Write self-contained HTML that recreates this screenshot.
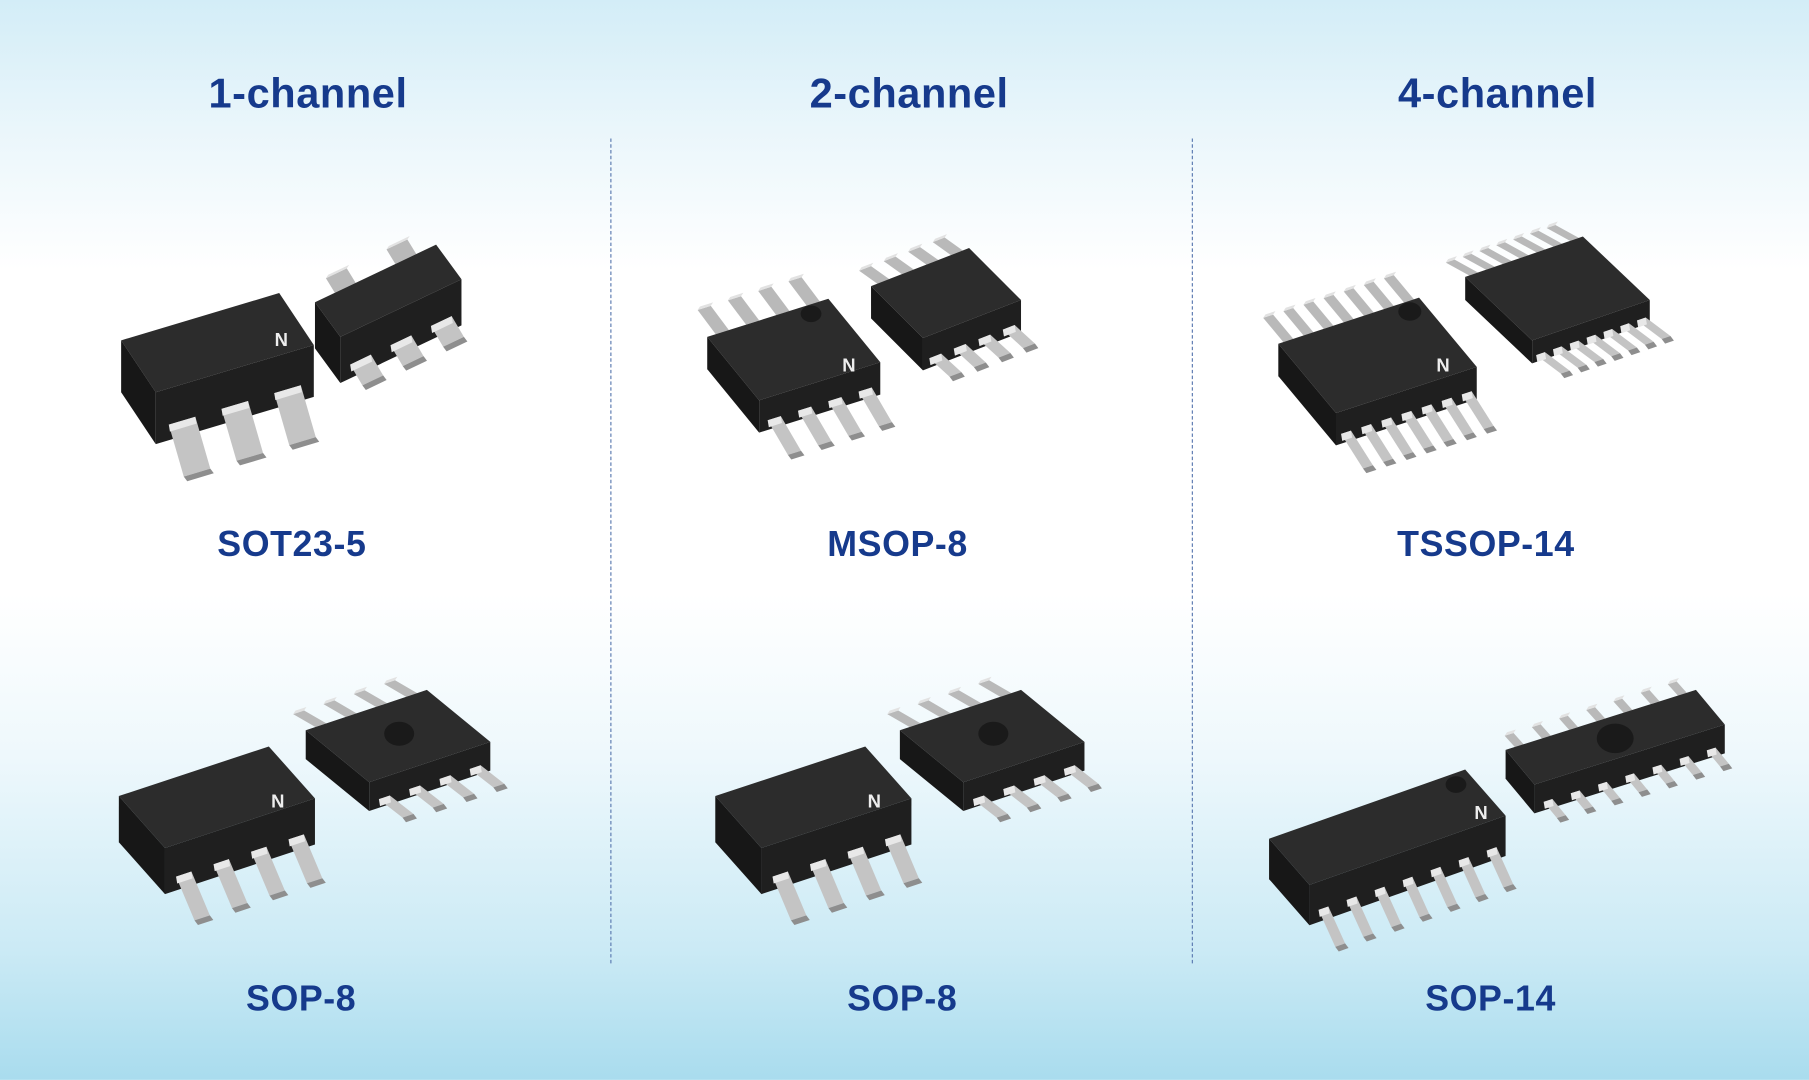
<!DOCTYPE html>
<html><head><meta charset="utf-8"><style>
html,body{margin:0;padding:0;}
body{width:1809px;height:1080px;overflow:hidden;}
#wrap{width:1568px;height:936px;transform:scale(1.15370);transform-origin:0 0;position:relative;
background:linear-gradient(180deg,#d3edf7 0%,#eaf6fb 12%,#ffffff 25%,#ffffff 55%,#eef8fc 70%,#cbeaf5 88%,#a9dcee 100%);
font-family:"Liberation Sans",sans-serif;}
.t{position:absolute;color:#163a8c;font-weight:bold;text-align:center;width:400px;letter-spacing:0.5px;}
.h{font-size:36px;top:60px;}
.l{font-size:31px;}
.d{position:absolute;top:120px;height:715px;border-left:1.5px dashed #5a79b0;}
svg{position:absolute;left:0;top:0;}
</style></head><body><div id="wrap">
<div class="t h" style="left:67px">1-channel</div>
<div class="t h" style="left:588px">2-channel</div>
<div class="t h" style="left:1098px">4-channel</div>
<div class="t l" style="left:53px;top:454px">SOT23-5</div>
<div class="t l" style="left:578px;top:454px">MSOP-8</div>
<div class="t l" style="left:1088px;top:454px">TSSOP-14</div>
<div class="t l" style="left:61px;top:848px">SOP-8</div>
<div class="t l" style="left:582px;top:848px">SOP-8</div>
<div class="t l" style="left:1092px;top:848px">SOP-14</div>
<div class="d" style="left:529px"></div>
<div class="d" style="left:1033px"></div>
<svg id="s" width="1568" height="936" viewBox="0 0 1568 936"></svg>
</div>
<script>
var s=document.getElementById('s'),out='';
function P(pts,fill){out+='<polygon points="'+pts.map(function(p){return p[0].toFixed(1)+','+p[1].toFixed(1)}).join(' ')+'" fill="'+fill+'"/>';}
function A(a,b){return [a[0]+b[0],a[1]+b[1]];}
function M(a,k){return [a[0]*k,a[1]*k];}
function chip(O,u,v,h,nf,nb,pl,pw,hole,logo){
  var ul=Math.hypot(u[0],u[1]),ud=M(u,1/ul);
  // back pins
  for(var i=0;i<nb;i++){var t=(i+0.5)/nb,b=A(O,M(u,t));
    var a1=A(b,M(ud,-pw/2)),a2=A(b,M(ud,pw/2));var up=[-v[0]*0.35,-pl*0.7];
    P([a1,a2,A(a2,up),A(a1,up)],'#b9b9b9');P([A(a1,up),A(a2,up),A(A(a2,up),[2,-3]),A(A(a1,up),[2,-3])],'#e2e2e2');}
  var B=A(O,v),C=A(B,u),D=A(O,u);
  P([O,D,C,B],'#2c2c2c');
  P([B,C,A(C,h),A(B,h)],'#1f1f1f');
  P([O,B,A(B,h),A(O,h)],'#171717');
  if(hole){out+='<ellipse cx="'+hole[0]+'" cy="'+hole[1]+'" rx="'+hole[2]+'" ry="'+hole[2]*0.8+'" fill="#1a1a1a"/>';}
  if(logo){out+='<text x="'+logo[0]+'" y="'+logo[1]+'" font-family="Liberation Sans" font-weight="bold" font-size="16" fill="#eee">N</text>';}
  for(var i=0;i<nf;i++){var t=(i+0.5)/nf,b=A(A(B,h),M(u,t));b=[b[0],b[1]-h[1]*0.3];
    var a1=A(b,M(ud,-pw/2)),a2=A(b,M(ud,pw/2));var dn=[v[0]*0.3+4,pl];
    P([a1,a2,A(a2,dn),A(a1,dn)],'#c4c4c4');P([A(a1,dn),A(a2,dn),A(A(a2,dn),[3,4]),A(A(a1,dn),[3,4])],'#8e8e8e');
    P([a1,a2,A(a2,[1,6]),A(a1,[1,6])],'#e8e8e8');}
}
chip([105,295],[137,-41],[30,45],[0,45],3,0,45,24,null,[238,300]);
chip([273,262],[105,-50],[22,30],[0,40],3,2,18,20,null,null);
chip([613,292],[105,-33],[45,55],[0,28],4,4,30,12,[703,272,9],[730,322]);
chip([755,248],[85,-33],[45,45],[0,28],4,4,16,11,null,null);
chip([1108,298],[122,-40],[50,60],[0,28],7,7,30,9,[1222,270,10],[1245,322]);
chip([1270,240],[102,-35],[58,55],[0,20],7,7,16,8,null,null);
chip([103,690],[130,-43],[40,45],[0,40],4,0,38,14,null,[235,700]);
chip([265,633],[105,-35],[55,45],[0,25],4,4,16,10,[346,636,13],null);
chip([620,690],[130,-43],[40,45],[0,40],4,0,38,14,null,[752,700]);
chip([780,633],[105,-35],[55,45],[0,25],4,4,16,10,[861,636,13],null);
chip([1100,727],[170,-60],[35,40],[0,35],7,0,32,9,[1262,680,9],[1278,710]);
chip([1305,650],[165,-52],[25,30],[0,25],7,7,14,8,[1400,640,16],null);
s.innerHTML=out;
</script>
</body></html>
